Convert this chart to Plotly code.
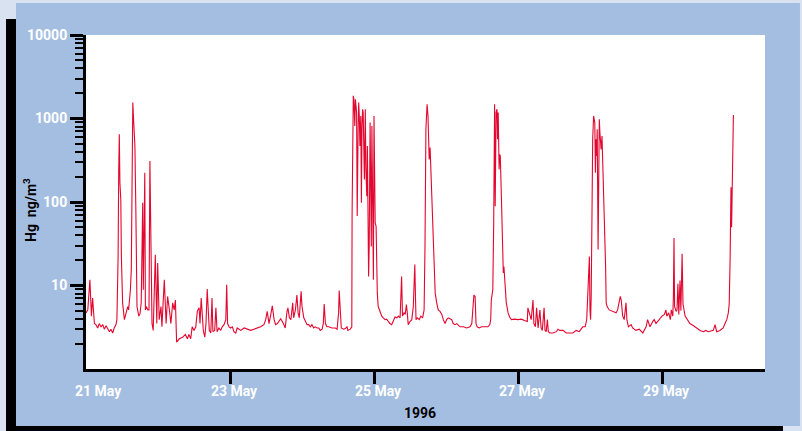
import pandas as pd
import plotly.graph_objects as go

# ---- data (hours after 21 May 1996 00:00, Hg concentration ng/m3) ----
HOURS = [
    0.0, 0.6, 1.3, 1.8, 2.2, 2.8, 3.3, 3.9, 4.4, 5.0, 5.6, 6.1, 6.7, 7.2, 7.8, 8.3, 8.9, 9.4, 10.0, 10.3,
    10.7, 10.9, 11.1, 11.3, 11.6, 11.8, 12.2, 12.8, 13.3, 13.9, 14.2, 14.8, 15.1, 15.3, 15.6, 15.8, 16.1, 16.3,
    16.6, 16.8, 17.0, 17.6, 18.0, 18.4, 18.7, 18.9, 19.1, 19.3, 19.6, 19.8, 20.1, 20.6, 21.0, 21.3, 21.7, 22.0,
    22.4, 22.8, 23.1, 23.6, 23.9, 24.4, 25.0, 25.3, 26.1, 26.7, 27.2, 27.8, 28.3, 28.9, 29.4, 29.8, 30.0, 30.2,
    31.1, 32.2, 33.1,
    33.8, 34.3, 34.9, 35.4, 36.0, 36.6, 37.1, 37.7, 38.0, 38.4, 38.8, 39.1, 39.6, 40.0, 40.4, 40.8, 41.1, 41.6,
    42.0, 42.3, 42.9, 43.3, 43.7, 44.3, 44.9, 45.4, 46.0, 46.6, 46.9, 47.2, 47.7, 48.2, 48.8, 49.3, 49.9, 50.4,
    51.6, 52.7, 53.8, 54.9, 56.0, 57.1, 58.2, 59.3, 59.9, 60.4, 61.0, 61.6, 62.1, 62.7, 63.2, 63.8, 64.3, 64.9,
    65.8,
    66.4, 67.0, 67.3, 67.8, 68.3, 68.9, 69.2, 69.8, 70.3, 70.7, 71.1, 71.7, 72.0, 72.6, 73.1, 73.7, 74.2, 74.8,
    75.3, 75.9, 76.4, 77.0, 77.6, 78.1, 78.7, 79.1, 79.4, 79.8, 80.3, 80.9, 82.0, 83.1, 83.7, 84.2, 84.4, 84.8,
    85.1, 85.9, 86.4, 87.0, 87.3, 88.1, 88.4,
    88.6, 88.7, 89.1, 89.3, 89.6, 89.8, 90.0, 90.2, 90.4, 90.7, 90.9, 91.1, 91.3, 91.6, 91.8, 92.0, 92.2, 92.4,
    92.8, 93.1, 93.3, 93.6, 93.8, 94.0, 94.2, 94.4, 94.7, 94.9, 95.1, 95.3, 95.6, 95.8, 96.0, 96.2, 96.4, 96.7,
    96.9, 97.1, 97.4, 98.0, 98.6, 99.1, 99.7, 100.2, 100.8, 101.3, 101.9, 102.4, 103.0, 103.6, 104.1, 104.7,
    104.9, 105.2, 105.5, 106.0, 106.4, 106.8, 107.1, 107.4, 108.0, 108.6, 109.1, 109.6, 109.8, 110.0, 110.4,
    111.1, 111.6, 112.2, 112.7, 113.0, 113.3, 113.7, 114.0, 114.2, 114.4, 114.7, 115.0, 115.3, 115.7, 116.0,
    116.4, 116.9, 117.4, 118.0, 118.6, 119.1, 119.7, 120.2, 120.8,
    121.9, 122.4, 123.0, 123.6, 124.7, 125.8, 126.9, 128.0, 128.6, 128.9, 129.3, 129.7, 130.0, 130.4, 131.1,
    131.8, 132.9, 134.0, 134.6, 134.9, 135.1, 135.6, 135.9, 136.2, 136.4, 136.7, 137.0, 137.2, 137.4, 137.7,
    137.9, 138.1, 138.4, 138.8, 139.1, 139.3, 139.6, 140.1, 140.7, 141.2, 141.8, 142.9, 144.0, 145.1, 146.2,
    147.1, 147.3, 147.9, 148.4, 149.0, 149.3, 149.8, 150.2, 150.7, 151.3, 151.7, 152.1, 152.7, 153.0, 153.4,
    153.8, 154.1, 154.6, 155.7, 156.8, 157.3, 157.9, 159.0, 160.1, 161.2, 162.3, 163.4,
    164.4, 165.6, 166.4, 166.9, 167.3, 167.6, 167.8, 168.0, 168.2, 168.4, 168.7, 168.9, 169.2, 169.6, 169.8,
    170.0, 170.2, 170.4, 170.7, 170.9, 171.1, 171.3, 171.7, 172.0, 172.2, 172.6, 172.8, 173.0, 173.2, 173.4,
    173.7, 174.4, 175.6, 176.7, 177.2, 177.8, 178.1, 178.4, 178.9, 179.4, 180.0, 180.3, 180.8, 181.7, 182.2,
    183.3, 184.4, 185.6, 186.7, 187.2, 188.0, 188.9, 189.4, 190.0, 191.1, 192.0, 192.8, 193.3, 193.6, 194.2,
    194.8, 195.1, 195.6, 195.8, 196.0, 196.2, 196.7,
    197.0, 197.3, 197.6, 198.0, 198.3, 198.7, 199.0, 199.7, 200.5, 201.3, 202.5, 203.6, 204.7, 205.8, 206.6,
    207.4, 208.3, 209.1, 209.7, 210.2, 211.3, 212.4, 213.0, 213.6, 214.1, 214.4, 214.7, 215.0, 215.2, 215.5,
    215.8,
]

HG = [
    4.7, 5.1, 11.7, 4.3, 7.1, 3.5, 3.4, 3.1, 3.5, 3.2, 3.4, 3.0, 3.3, 3.1, 2.8, 3.0, 2.7, 3.1, 3.4, 3.9,
    22, 224, 647, 170, 107, 22, 6.2, 3.9, 4.7, 5.6, 5.1, 8.9, 15.5, 141, 1554, 1074, 743, 468,
    89, 14.1, 5.6, 4.3, 4.6, 6.2, 56, 98, 8.9, 107, 224, 5.1, 5.6, 5.1, 5.1, 309, 8.9, 3.5,
    2.9, 15.5, 23.4, 3.5, 18.6, 3.9, 5.6, 3.2, 11.7, 3.5, 7.4, 5.1, 3.5, 6.2, 5.1, 6.7, 2.9, 2.1,
    2.3, 2.4, 2.6,
    2.3, 2.6, 2.3, 3.2, 2.9, 3.2, 4.9, 5.4, 3.5, 7.1, 4.7, 2.9, 2.4, 3.5, 9.1, 4.3, 2.9, 2.7,
    7.1, 2.8, 2.9, 5.4, 2.8, 3.1, 2.9, 3.2, 3.4, 3.9, 10.2, 3.5, 3.2, 3.1, 3.2, 2.8, 2.7, 3.1,
    2.9, 3.1, 3.0, 2.9, 3.0, 3.1, 3.2, 3.4, 3.9, 4.9, 3.5, 4.5, 5.7, 3.9, 3.4, 3.5, 3.7, 4.0,
    3.5,
    3.1, 4.9, 5.4, 4.1, 3.9, 6.2, 4.1, 5.1, 7.7, 4.7, 4.1, 8.5, 5.6, 4.1, 3.7, 3.4, 3.4, 3.2,
    3.4, 3.1, 3.2, 3.1, 3.1, 2.9, 3.0, 3.5, 6.0, 3.5, 3.2, 3.2, 3.1, 3.1, 3.0, 4.7, 8.7, 4.3,
    3.1, 3.0, 3.05, 3.2, 2.9, 3.0, 3.1,
    3.2, 74, 1866, 1700, 814, 1700, 1416, 1178, 68, 743, 1554, 1074, 468, 1074, 98, 743, 1290, 1178,
    186, 1290, 246, 117, 468, 16.9, 12.8, 29.4, 894, 186, 29.4, 814, 32, 11.7, 1074, 186, 56, 51,
    15.5, 8.1, 5.6, 4.9, 4.3, 4.1, 3.9, 3.95, 3.7, 3.5, 3.4, 3.7, 4.2, 4.1, 4.3, 4.1,
    7.4, 12.8, 4.3, 4.7, 4.5, 5.9, 4.7, 3.4, 3.7, 3.9, 5.6, 17.8, 8.1, 3.9, 4.1,
    3.9, 4.3, 4.1, 5.1, 29.4, 743, 1483, 1074, 468, 324, 448, 224, 89, 35.5, 14.1,
    8.1, 6.2, 5.1, 4.9, 4.5, 3.9, 3.5, 3.9, 4.1,
    3.9, 3.5, 3.4, 3.5, 3.2, 3.2, 3.1, 3.2, 3.5, 4.9, 7.7, 7.4, 3.5, 3.2, 3.1,
    3.2, 3.2, 3.2, 3.4, 3.9, 6.7, 8.9, 56, 1483, 89, 1178, 1290, 564, 1178, 246,
    372, 355, 141, 22.3, 14.1, 16.9, 10.7, 6.2, 4.7, 4.2, 3.9, 3.95, 3.9, 3.95, 3.8,
    3.7, 5.4, 4.3, 3.9, 6.7, 3.5, 3.2, 5.4, 3.1, 5.1, 3.1, 2.9, 5.4, 2.9, 2.8,
    3.9, 2.8, 2.7, 2.7, 2.8, 3.0, 2.9, 2.9, 2.7, 2.7, 2.7, 2.9,
    2.8, 3.2, 3.2, 3.9, 10.7, 15.5, 22.3, 5.1, 3.9, 7.4, 141, 564, 1074, 894, 224,
    564, 355, 743, 26.9, 224, 980, 678, 427, 616, 355, 89, 51, 42.5, 16.9, 6.2,
    5.6, 5.1, 4.9, 4.7, 5.1, 6.2, 7.4, 6.7, 4.3, 3.9, 6.2, 3.9, 3.2, 3.4, 3.1,
    2.9, 3.0, 2.7, 3.2, 3.9, 3.2, 3.7, 3.9, 3.5, 3.9, 4.3, 4.5, 5.1, 4.3, 4.7,
    3.9, 5.1, 4.3, 7.4, 37, 5.6, 4.9,
    5.1, 10.5, 4.5, 11.5, 5.0, 24, 6.0, 4.3, 3.9, 3.5, 3.3, 3.1, 2.9, 2.8, 2.9,
    2.8, 2.85, 2.9, 3.4, 2.8, 2.9, 3.1, 3.5, 3.9, 4.7, 6.0, 20, 150, 50, 300,
    1100,
]

START = "1996-05-21"
X_TICKS = ["1996-05-23", "1996-05-25", "1996-05-27", "1996-05-29"]
X_TICK_LABELS = ["23 May", "25 May", "27 May", "29 May"]
FIRST_DAY_LABEL = "21 May"
YEAR_LABEL = "1996"
Y_TICKS = [10, 100, 1000, 10000]
Y_TICK_LABELS = ["10", "100", "1000", "10000"]
Y_MINOR = [k * 10 ** e for e in range(4) for k in range(2, 10)]
Y_TITLE = "Hg\u00a0 ng/m<sup>3</sup>"

RED = "#e3062f"
BLUE = "#a4bee1"
PAGE = "#d9e2f0"
FONT = "Roboto, Arial, sans-serif"

times = pd.Timestamp(START) + pd.to_timedelta(HOURS, unit="h")

fig = go.Figure()
fig.add_trace(go.Scatter(x=times, y=HG, mode="lines",
                         line=dict(color=RED, width=1.1), showlegend=False))

tickfont = dict(family=FONT, size=14, color="white", weight="bold")

fig.update_layout(
    width=802, height=431,
    margin=dict(l=86, r=37, t=35, b=62, pad=0),
    paper_bgcolor=PAGE, plot_bgcolor="white",
    showlegend=False,
    xaxis=dict(
        type="date", range=["1996-05-21 00:00", "1996-05-30 10:20"],
        showgrid=False, zeroline=False, showline=True, linecolor="black", linewidth=3,
        ticks="outside", ticklen=12, tickwidth=3, tickcolor="black",
        tickmode="array", tickvals=X_TICKS, ticktext=X_TICK_LABELS,
        tickfont=tickfont, ticklabelshift=4, ticklabelstandoff=-5,
    ),
    yaxis=dict(
        type="log", range=[0, 4],
        showgrid=False, zeroline=False, showline=True, linecolor="black", linewidth=3,
        ticks="outside", ticklen=13, tickwidth=3, tickcolor="black",
        tickmode="array", tickvals=Y_TICKS, ticktext=Y_TICK_LABELS,
        tickfont=tickfont,
        minor=dict(tickmode="array", tickvals=Y_MINOR, ticks="outside", ticklen=8,
                   tickwidth=2, tickcolor="black", showgrid=False),
    ),
    shapes=[
        dict(type="rect", xref="paper", yref="paper", x0=-0.1178, x1=1.0265, y0=-0.1856, y1=1.0479,
             fillcolor="black", line=dict(width=0), layer="below"),
        dict(type="rect", xref="paper", yref="paper", x0=-0.1031, x1=1.0515, y0=-0.1707, y1=1.0958,
             fillcolor=BLUE, line=dict(width=0), layer="below"),
        dict(type="rect", xref="paper", yref="paper", x0=0, x1=1, y0=0, y1=1,
             fillcolor="white", line=dict(width=0), layer="below"),
    ],
    annotations=[
        dict(text=FIRST_DAY_LABEL, xref="paper", yref="paper", x=0.0177, y=-0.0659,
             xanchor="center", yanchor="middle", showarrow=False, font=tickfont),
        dict(text=YEAR_LABEL, xref="paper", yref="paper", x=0.4919, y=-0.1317,
             xanchor="center", yanchor="middle", showarrow=False,
             font=dict(family=FONT, size=14, color="black", weight="bold")),
        dict(text=Y_TITLE, xref="paper", yref="paper", x=-0.0825, y=0.476, textangle=-90,
             xanchor="center", yanchor="middle", showarrow=False,
             font=dict(family=FONT, size=14, color="black", weight="bold")),
    ],
)

fig.write_html("out.html", config={"displayModeBar": False},
               post_script="document.body.style.margin='0';")
